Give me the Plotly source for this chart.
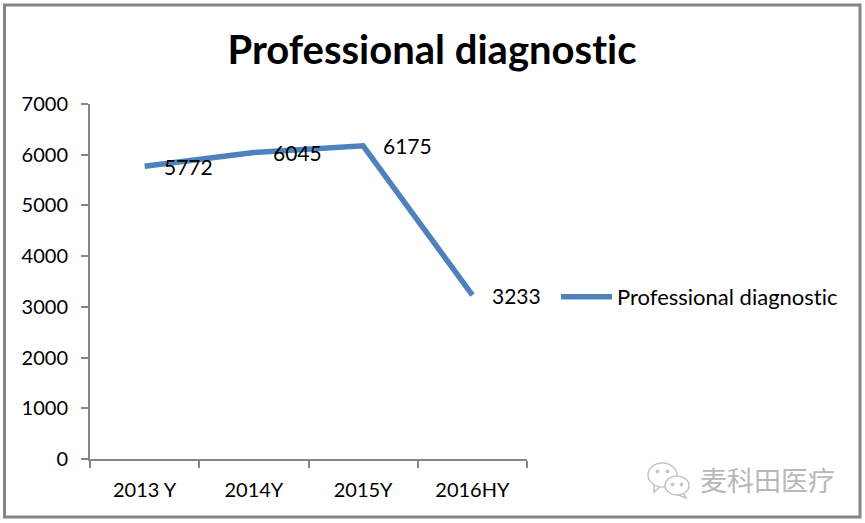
import plotly.graph_objects as go

categories = ["2013 Y", "2014Y", "2015Y", "2016HY"]
values = [5772, 6045, 6175, 3233]
labels = ["5772", "6045", "6175", "3233"]
series_name = "Professional diagnostic"
y_ticks = [0, 1000, 2000, 3000, 4000, 5000, 6000, 7000]
watermark = "麦科田医疗"
FONT = "Lato, Noto Sans, sans-serif"
GREY = "#868686"
BLUE = "#4f81bd"
ICON = "#c4c4c4"

W, H = 865, 523
L, R, T, B = 90, 338, 104, 64
pw, ph = W - L - R, H - T - B


def px(x):
    return (x - L) / pw


def py(y):
    return 1 - (y - T) / ph


def pfig(kind, x0, y0, x1, y1, **kw):
    return dict(type=kind, xref="paper", yref="paper", x0=px(x0), x1=px(x1), y0=py(y0), y1=py(y1), **kw)


def ppath(points):
    d = "M " + " L ".join(f"{px(x):.4f},{py(y):.4f}" for x, y in points)
    return dict(type="path", xref="paper", yref="paper", path=d,
                line=dict(color=ICON, width=1.5), fillcolor="white")


fig = go.Figure()
fig.add_trace(go.Scatter(x=categories, y=values, mode="lines", name=series_name,
                         line=dict(color=BLUE, width=5.5), showlegend=True))
for c, v, t in zip(categories, values, labels):
    fig.add_annotation(x=c, y=v, text=t, showarrow=False, xshift=44, yshift=0,
                       font=dict(size=21, color="#000", family=FONT))

fig.add_annotation(xref="paper", yref="paper", x=px(767), y=py(479), text=watermark, showarrow=False,
                   xanchor="center", yanchor="middle",
                   font=dict(size=27, color="#b8b8b8", family="Noto Sans CJK SC"))

shapes = [
    pfig("rect", 4.5, 5, 860, 517, line=dict(color=GREY, width=3), fillcolor="rgba(0,0,0,0)", layer="below"),
    ppath([(654, 482), (654, 492), (662, 485)]),
    pfig("circle", 648, 463, 677, 487, line=dict(color=ICON, width=1.5), fillcolor="white"),
    ppath([(682, 491), (686, 498), (676, 494)]),
    pfig("circle", 665, 476, 689, 495, line=dict(color=ICON, width=1.5), fillcolor="white"),
    pfig("circle", 656, 470, 659, 473, line=dict(color=ICON, width=1), fillcolor=ICON),
    pfig("circle", 666, 470, 669, 473, line=dict(color=ICON, width=1), fillcolor=ICON),
    pfig("circle", 671, 483, 674, 486, line=dict(color=ICON, width=1), fillcolor=ICON),
    pfig("circle", 680, 483, 683, 486, line=dict(color=ICON, width=1), fillcolor=ICON),
]

fig.update_layout(
    width=W, height=H, autosize=False,
    paper_bgcolor="white", plot_bgcolor="white",
    margin=dict(l=L, r=R, t=T, b=B, autoexpand=False),
    title=dict(text="<b>Professional diagnostic</b>", xref="paper", x=px(432), xanchor="center",
               yref="container", y=1 - 50 / H, yanchor="middle",
               font=dict(size=40, color="#000", family=FONT)),
    legend=dict(x=px(556), y=py(297), xanchor="left", yanchor="middle", itemwidth=51,
                bgcolor="rgba(0,0,0,0)", font=dict(size=22, color="#000", family=FONT)),
    xaxis=dict(type="category", range=[-0.5, 3.5], tickson="boundaries", showline=True, linecolor=GREY,
               linewidth=2, ticks="outside", tickcolor=GREY, tickwidth=2, ticklen=7, showgrid=False,
               ticklabelstandoff=12, tickfont=dict(size=20, color="#000", family=FONT)),
    yaxis=dict(range=[0, 7000], tickvals=y_ticks, showline=True, linecolor=GREY, linewidth=2,
               ticks="outside", tickcolor=GREY, tickwidth=2, ticklen=7, showgrid=False, zeroline=False,
               ticklabelstandoff=9, tickfont=dict(size=20, color="#000", family=FONT)),
    shapes=shapes,
)
fig.write_html(
    "out.html",
    config=dict(displayModeBar=False),
    post_script=(
        "document.body.style.margin='0';"
        "var s=document.createElement('style');"
        "s.textContent='svg text{font-variant-ligatures:none !important;}';"
        "document.head.appendChild(s);"
    ),
)
